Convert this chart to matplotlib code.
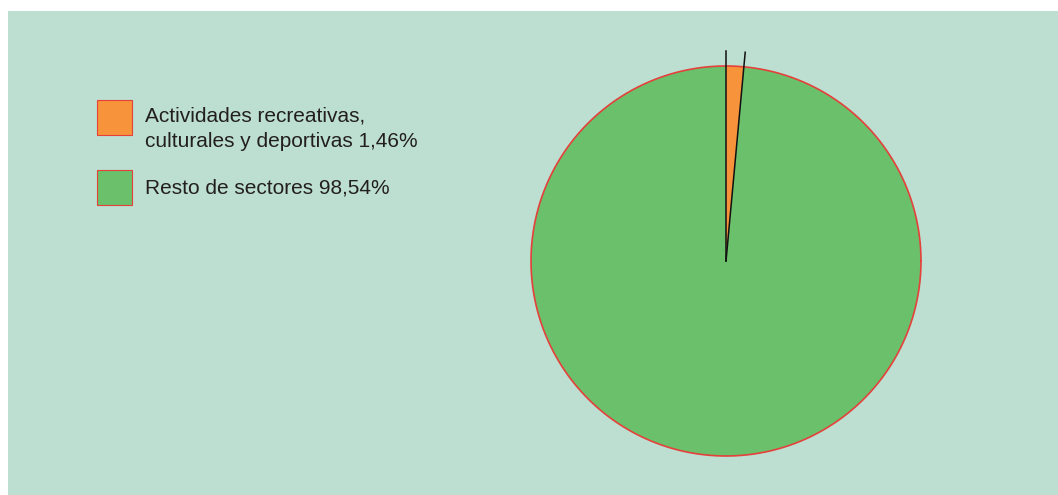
import numpy as np
import matplotlib.pyplot as plt
from matplotlib.patches import Rectangle

plt.rcParams['font.family'] = ['Liberation Sans', 'DejaVu Sans']

# data
labels = ['Actividades recreativas,\nculturales y deportivas 1,46%', 'Resto de sectores 98,54%']
values = [1.46, 98.54]
colors = ['#f7943b', '#6bc06b']

bg = '#bcdfd1'
edge_red = '#e5403a'

W, H = 1058, 495
fig = plt.figure(figsize=(W / 100, H / 100), dpi=100)
fig.patch.set_facecolor('white')

# background panel
bg_ax = fig.add_axes([8 / W, 0, (W - 8) / W, (H - 11) / H])
bg_ax.set_facecolor(bg)
bg_ax.set_xticks([])
bg_ax.set_yticks([])
for s in bg_ax.spines.values():
    s.set_visible(False)

# pie axes: center (726, 261) px, radius 195 px
cx, cy, R = 726, H - 261, 195
half = R * 1.1
ax = fig.add_axes([(cx - half) / W, (cy - half) / H, 2 * half / W, 2 * half / H])
ax.axis('off')

wedges, _ = ax.pie(values, colors=colors, startangle=90, counterclock=False,
                   radius=1, wedgeprops=dict(edgecolor='none', linewidth=0))
# pie() resets the limits, put them back
ax.set_xlim(-1.1, 1.1)
ax.set_ylim(-1.1, 1.1)

# red outline of the circle
t = np.linspace(0, 2 * np.pi, 400)
ax.plot(np.cos(t), np.sin(t), color=edge_red, lw=1.2)

# black leader lines bounding the small slice
for frac in [0, values[0]]:
    ang = np.deg2rad(90 - 360 * frac / 100)
    ax.plot([0, 1.075 * np.cos(ang)], [0, 1.075 * np.sin(ang)], color='#111111', lw=1.1)

# legend
sq_x, sq_w = 97, 35
sq_tops = [100, 170]
for lab, col, top in zip(labels, colors, sq_tops):
    fig.patches.append(Rectangle((sq_x / W, (H - top - sq_w) / H), sq_w / W, sq_w / H,
                                 transform=fig.transFigure, facecolor=col,
                                 edgecolor=edge_red, lw=0.8))
    nlines = lab.count('\n') + 1
    if nlines > 1:
        fig.text(145 / W, (H - 106) / H, lab, fontsize=15, color='#231f20',
                 va='top', ha='left', linespacing=1.45)
    else:
        fig.text(145 / W, (H - top - sq_w / 2) / H, lab, fontsize=15, color='#231f20',
                 va='center', ha='left')

fig.savefig('out.png', dpi=100)
